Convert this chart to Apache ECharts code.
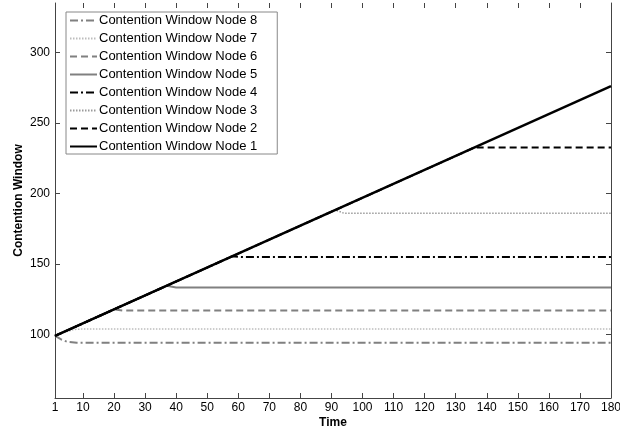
<!DOCTYPE html>
<html>
<head>
<meta charset="utf-8">
<script src="https://cdn.jsdelivr.net/npm/echarts@6/dist/echarts.min.js"></script>
<style>html,body{margin:0;padding:0;background:#fff}#c{width:620px;height:430px}</style>
</head>
<body>
<div id="c"></div>
<script>
const timeTicks = [1, 10, 20, 30, 40, 50, 60, 70, 80, 90, 100, 110, 120, 130, 140, 150, 160, 170, 180];
const cwTicks = [100, 150, 200, 250, 300];
const nodeNames = ['Contention Window Node 8', 'Contention Window Node 7', 'Contention Window Node 6',
  'Contention Window Node 5', 'Contention Window Node 4', 'Contention Window Node 3',
  'Contention Window Node 2', 'Contention Window Node 1'];
const node8 = [[1, 99], [3, 96.5], [5, 94.8], [8, 94.2], [180, 94.2]];
const node7 = [[1, 99], [4, 101.5], [7, 103.5], [10, 104], [180, 104]];
const node6 = [[1, 99], [20, 117.8], [23, 117], [180, 117]];
const node5 = [[1, 99], [37, 134.6], [40, 133.4], [180, 133.4]];
const node4 = [[1, 99], [58, 155.4], [61, 155], [180, 155]];
const node3 = [[1, 99], [91, 188.5], [94, 186], [180, 186]];
const node2 = [[1, 99], [136, 232.5], [139, 232.5], [180, 232.5]];
const node1 = [[1, 99], [180, 276]];

const nodeData = [node8, node7, node6, node5, node4, node3, node2, node1];
const styles = [
  {color: '#808080', width: 2, type: [8, 3, 2, 3]},
  {color: '#bdbdbd', width: 1.5, type: [1.5, 1.5]},
  {color: '#808080', width: 2, type: [7, 4]},
  {color: '#808080', width: 2, type: 'solid'},
  {color: '#000000', width: 2, type: [8, 3, 2, 3]},
  {color: '#9a9a9a', width: 1.5, type: [1.5, 1.5]},
  {color: '#000000', width: 2, type: [7, 4]},
  {color: '#000000', width: 2.5, type: 'solid'}
];

const chart = echarts.init(document.getElementById('c'), null, {renderer: 'canvas'});
const axisCol = '#444';
const font = 'Arial, "Liberation Sans", sans-serif';
const series = nodeData.map((d, i) => ({
  name: nodeNames[i], type: 'line', data: d, showSymbol: false, symbol: 'none',
  xAxisIndex: 0, yAxisIndex: 0,
  lineStyle: {color: styles[i].color, width: styles[i].width, type: styles[i].type},
  itemStyle: {color: styles[i].color},
  animation: false, z: 2 + i
}));

chart.setOption({
  animation: false,
  grid: {left: 55, right: 9, top: 3, bottom: 32, containLabel: false, outerBoundsMode: 'none'},
  legend: {
    orient: 'vertical', left: 66, top: 12, data: nodeNames,
    itemWidth: 27, itemHeight: 12, itemGap: 5, padding: [2, 20, 1, 3],
    borderColor: '#888', borderWidth: 1, backgroundColor: '#fff',
    textStyle: {fontFamily: font, fontSize: 13, color: '#000', padding: [0, 0, 0, -3]},
    itemStyle: {opacity: 0, borderWidth: 0}
  },
  xAxis: [{
    type: 'value', min: 1, max: 180, position: 'bottom',
    name: 'Time', nameLocation: 'middle', nameGap: 19, nameMoveOverlap: false,
    nameTextStyle: {fontFamily: font, fontSize: 12, fontWeight: 'bold', color: '#000'},
    axisLine: {show: true, lineStyle: {color: axisCol, width: 1}},
    axisTick: {show: true, inside: true, length: 5, customValues: timeTicks, lineStyle: {color: axisCol}},
    axisLabel: {show: true, customValues: timeTicks, fontFamily: font, fontSize: 12, color: '#000', margin: 4},
    splitLine: {show: false}
  }, {
    type: 'value', min: 1, max: 180, position: 'top',
    axisLine: {show: false},
    axisTick: {show: true, inside: true, length: 5, customValues: timeTicks, lineStyle: {color: axisCol}},
    axisLabel: {show: false},
    splitLine: {show: false}
  }],
  yAxis: [{
    type: 'value', min: 55, max: 335, position: 'left',
    name: 'Contention Window', nameLocation: 'middle', nameGap: 30, nameRotate: 90, nameMoveOverlap: false,
    nameTextStyle: {fontFamily: font, fontSize: 12, fontWeight: 'bold', color: '#000'},
    axisLine: {show: true, lineStyle: {color: axisCol, width: 1}},
    axisTick: {show: true, inside: true, length: 5, customValues: cwTicks, lineStyle: {color: axisCol}},
    axisLabel: {show: true, customValues: cwTicks, fontFamily: font, fontSize: 12, color: '#000', margin: 5},
    splitLine: {show: false}
  }, {
    type: 'value', min: 55, max: 335, position: 'right',
    axisLine: {show: true, lineStyle: {color: axisCol, width: 1}},
    axisTick: {show: true, inside: true, length: 5, customValues: cwTicks, lineStyle: {color: axisCol}},
    axisLabel: {show: false},
    splitLine: {show: false}
  }],
  series: series
});
</script>
</body>
</html>
